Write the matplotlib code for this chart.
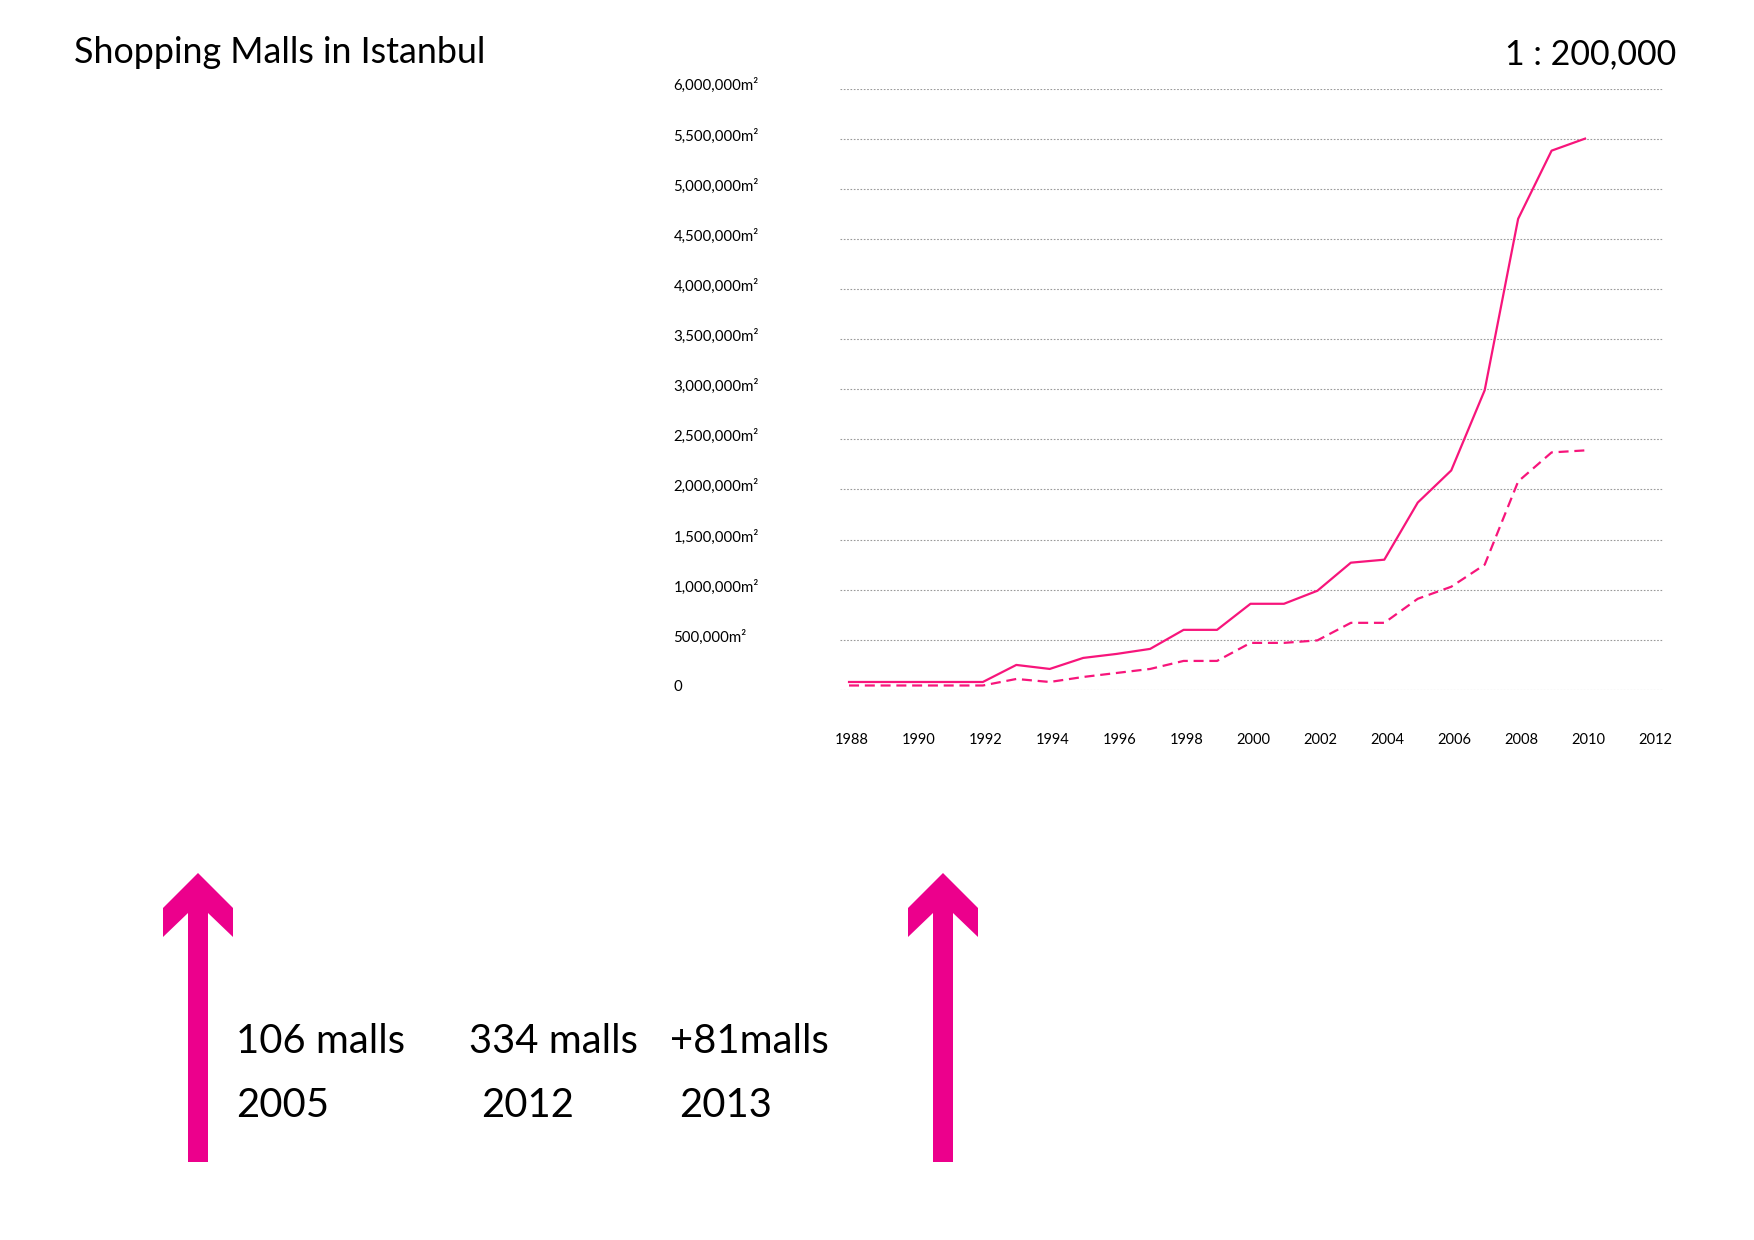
import matplotlib.pyplot as plt
import matplotlib.transforms as mtransforms
from matplotlib.patches import Polygon

plt.rcParams['font.family'] = ['Lato', 'DejaVu Sans']

# === DATA ===
years = list(range(1988, 2011))
# total shopping mall floor area (m2), solid line
area_total = [80000, 80000, 80000, 80000, 80000, 250000, 210000, 320000, 360000, 410000,
              600000, 600000, 860000, 860000, 990000, 1270000, 1300000, 1870000,
              2190000, 2990000, 4700000, 5380000, 5500000]
# leasable area (m2), dashed line
area_leasable = [45000, 45000, 45000, 45000, 45000, 110000, 80000, 130000, 170000, 210000,
                 290000, 290000, 470000, 470000, 495000, 670000, 670000, 910000,
                 1030000, 1250000, 2080000, 2370000, 2390000]

y_ticks = [0, 500000, 1000000, 1500000, 2000000, 2500000, 3000000,
           3500000, 4000000, 4500000, 5000000, 5500000, 6000000]
y_labels = ["0"] + [f"{v:,}m²" for v in y_ticks[1:]]
x_ticks = list(range(1988, 2013, 2))

mall_counts = ["106 malls", "334 malls", "+81malls"]
mall_years = ["2005", "2012", "2013"]

line_color = "#f7157b"
arrow_color = "#ec008c"

W, H = 1754, 1240
fig = plt.figure(figsize=(W / 100, H / 100), dpi=100)

# chart area
ax = fig.add_axes([840 / W, 1 - 690 / H, 823 / W, 601.5 / H])
ax.plot(years, area_total, color=line_color, lw=1.6, clip_on=False)
ax.plot(years, area_leasable, color=line_color, lw=1.6,
        linestyle=(0, (4.5, 2.6)), clip_on=False)

ax.set_xlim(1987.73, 2012.33)
ax.set_ylim(0, 6000000)
ax.set_yticks(y_ticks)
ax.set_yticklabels(y_labels, ha="left", fontsize=10.8)
ax.set_xticks(x_ticks)
ax.set_xticklabels([str(x) for x in x_ticks], fontsize=10.5)
ax.tick_params(axis="y", length=0, pad=120)
ax.tick_params(axis="x", length=0, pad=31)
ax.yaxis.grid(True, linestyle=(0, (1.5, 1.5)), color="#9a9a9a", lw=0.8)
ax.xaxis.grid(False)
for s in ax.spines.values():
    s.set_visible(False)

shift_y = mtransforms.ScaledTranslation(0, 3 / 72, fig.dpi_scale_trans)
for lab in ax.get_yticklabels():
    lab.set_transform(lab.get_transform() + shift_y)
shift_x = mtransforms.ScaledTranslation(3 / 100, 0, fig.dpi_scale_trans)
for lab in ax.get_xticklabels():
    lab.set_transform(lab.get_transform() + shift_x)

# title and scale
fig.text(74 / W, 1 - 63 / H, "Shopping Malls in Istanbul", fontsize=25.8,
         va="baseline", ha="left")
fig.text(1676 / W, 1 - 64 / H, "1 : 200,000", fontsize=24.5,
         va="baseline", ha="right")

# overlay in pixel coordinates for the arrows and mall counts
ov = fig.add_axes([0, 0, 1, 1])
ov.set_xlim(0, W)
ov.set_ylim(H, 0)
ov.axis("off")
ov.patch.set_alpha(0)

for cx in [198, 943]:
    pts = [(cx, 873), (cx + 35, 908), (cx + 35, 937), (cx + 10, 913), (cx + 10, 1162),
           (cx - 10, 1162), (cx - 10, 913), (cx - 35, 937), (cx - 35, 908)]
    ov.add_patch(Polygon(pts, closed=True, color=arrow_color, lw=0))

for x, t in zip([236, 469, 670], mall_counts):
    ov.text(x, 1053, t, fontsize=28.8, va="baseline", ha="left")
for x, t in zip([236, 481, 679], mall_years):
    ov.text(x, 1117, t, fontsize=28.8, va="baseline", ha="left")

fig.savefig("out.png", dpi=100, facecolor="white")
